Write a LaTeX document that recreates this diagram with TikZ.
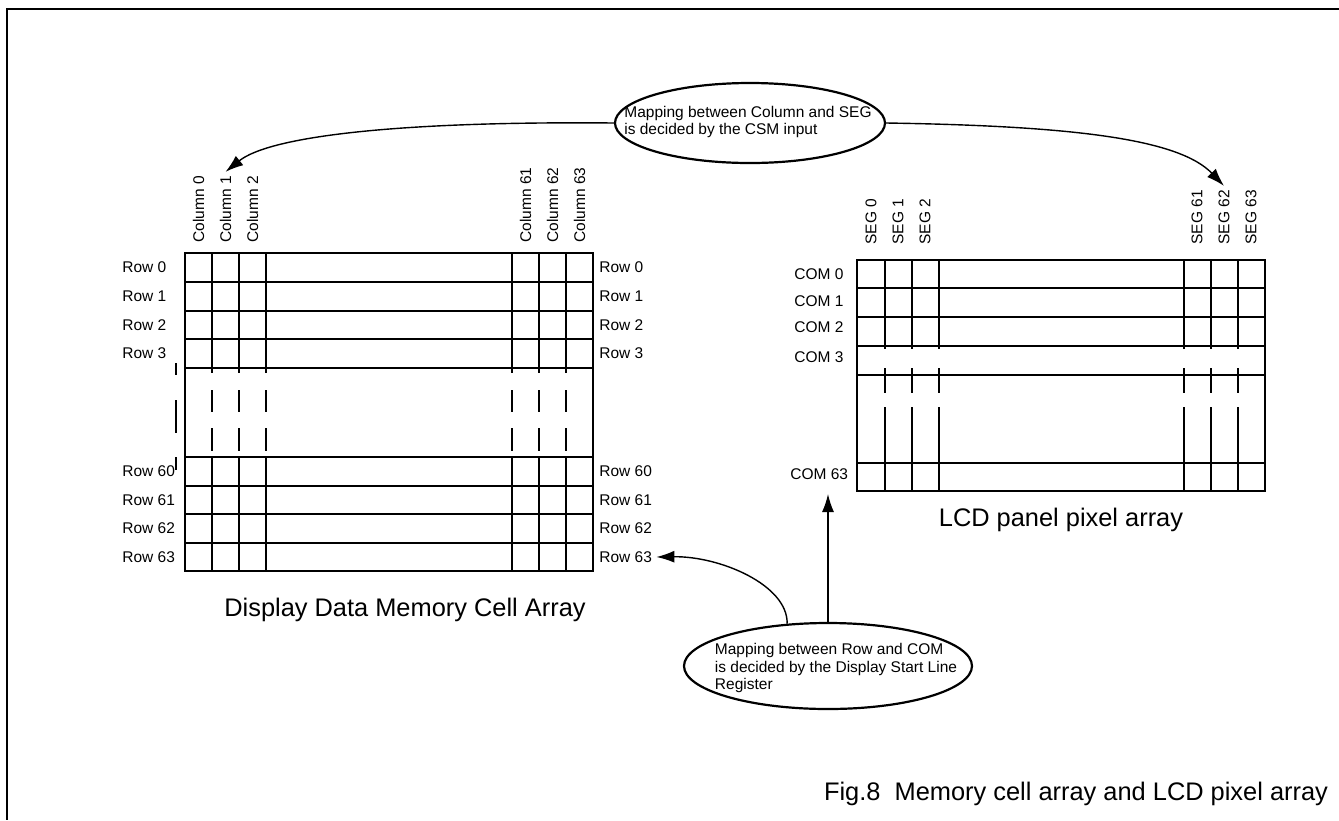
\documentclass[tikz,border=0pt]{standalone}
\usepackage{fontspec}
\setmainfont{Liberation Sans}
\usetikzlibrary{shapes.geometric, arrows.meta}

\tikzset{
  lbl/.style={font=\fontsize{7.75}{8.75}\selectfont, inner sep=2pt},
  big/.style={font=\fontsize{12.7}{15}\selectfont},
  cell/.style={line width=0.9pt},
  outer/.style={line width=1.4pt},
  bubble/.style={ellipse, draw, line width=1.1pt, inner sep=0pt},
  arr/.style={-{Latex[length=9pt,width=6pt]}, line width=0.7pt},
}

\begin{document}
\begin{tikzpicture}[x=0.5pt, y=-0.5pt]
      \useasboundingbox (0,0) rectangle (1339,820);
      \draw[line width=1.3pt] (1339,9) -- (7,9) -- (7,820);
      % memory cell array
      \foreach \y in {282,311,339,368,457,486,514,543}
        \draw[cell] (185,\y) -- (593,\y);
      \foreach \x in {212,239,266,512,539,566}
        \draw[cell] (\x,253) -- (\x,373) (\x,390) -- (\x,412) (\x,428) -- (\x,451) (\x,457) -- (\x,571);
      \draw[outer] (185,253) rectangle (593,571);
      \draw[cell] (176,363) -- (176,375) (176,400) -- (176,433) (176,457) -- (176,470);
      \foreach \y/\n in {267.5/0,296.5/1,325/2,353.5/3,471.5/60,500/61,528.5/62,557/63} {
        \node[lbl, anchor=west] (rowl\n) at (118,\y) {Row \n};
        \node[lbl, anchor=west] (rowr\n) at (595,\y) {Row \n};
      }
      \foreach \x/\n in {198.5/0,225.5/1,252.5/2,525.5/61,552.5/62,579.5/63}
        \node[lbl, rotate=90, anchor=west] (col\n) at (\x,247) {Column \n};
      \node[big] (ddmca) at (405,610) {Display Data Memory Cell Array};
      % LCD pixel array
      \foreach \y in {288,317,346,375,463}
        \draw[cell] (857,\y) -- (1265,\y);
      \foreach \x in {885,912,939,1184,1211,1238}
        \draw[cell] (\x,260) -- (\x,349) (\x,368) -- (\x,393) (\x,407) -- (\x,491);
      \draw[outer] (857,260) rectangle (1265,491);
      \foreach \y/\n in {274/0,301/1,327/2,357/3}
        \node[lbl, anchor=west] (com\n) at (790,\y) {COM \n};
      \node[lbl, anchor=west] (com63) at (786,474) {COM 63};
      \foreach \x/\n in {871/0,898/1,925/2,1197/61,1224/62,1251/63}
        \node[lbl, rotate=90, anchor=west] (seg\n) at (\x,249) {SEG \n};
      \node[big] (lcdpa) at (1061,520) {LCD panel pixel array};
      % mapping notes
      \node[bubble, minimum width=135pt, minimum height=40pt] (csm) at (750,123) {};
      \node[lbl, align=left] (csmtxt) at (748,122) {Mapping between Column and SEG\\is decided by the CSM input};
      \node[bubble, minimum width=144pt, minimum height=43pt] (dsl) at (828,666) {};
      \node[lbl, align=left] (dsltxt) at (836,668) {Mapping between Row and COM\\is decided by the Display Start Line\\Register};
      \coordinate (c63) at (828,494);
      \draw[arr] (csm.west) .. controls (400,121) and (270,136) .. (col1.east);
      \draw[arr] (csm.east) .. controls (1080,126) and (1180,140) .. (seg62.east);
      \draw[arr] (dsl.north) -- (c63);
      \draw[arr] (dsl.134) .. controls (788,585) and (720,556) .. (rowr63.east);
      \node[big] (fig) at (1076,794) {Fig.8\ \ Memory cell array and LCD pixel array};
\end{tikzpicture}
\end{document}
